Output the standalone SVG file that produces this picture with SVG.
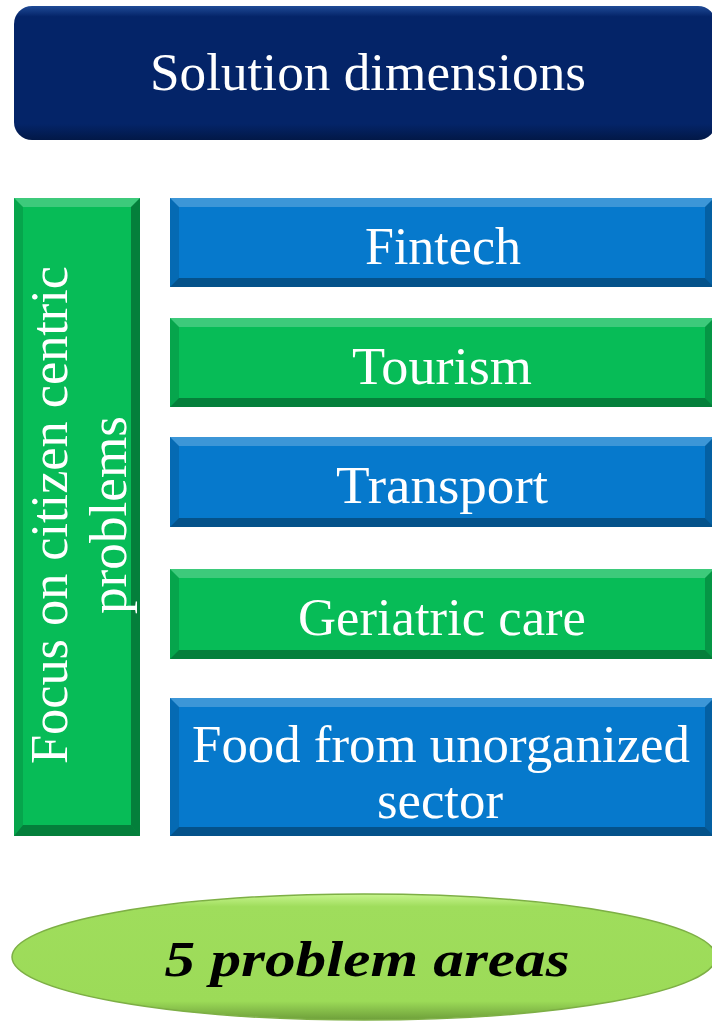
<svg xmlns="http://www.w3.org/2000/svg" width="712" height="1022" viewBox="0 0 712 1022">
<defs>
<style>
.t{font-family:"Liberation Serif","Times New Roman",serif;font-size:52px;fill:#ffffff;text-anchor:middle}
.hi{fill:#ffffff;fill-opacity:0.22}
.lo{fill:#000000;fill-opacity:0.32}
.sd{fill:#000000;fill-opacity:0.12}
.sr{fill:#000000;fill-opacity:0.2}
.blue{fill:#0679CC}
.green{fill:#07BC57}
</style>
<linearGradient id="navyG" x1="0" y1="0" x2="0" y2="1">
<stop offset="0" stop-color="#1F4A96"/>
<stop offset="0.08" stop-color="#042468"/>
<stop offset="0.88" stop-color="#042468"/>
<stop offset="1" stop-color="#021847"/>
</linearGradient>
<linearGradient id="limeG" x1="0" y1="0" x2="0" y2="1">
<stop offset="0" stop-color="#C8F58F"/>
<stop offset="0.1" stop-color="#9FDD5C"/>
<stop offset="0.85" stop-color="#9CDB58"/>
<stop offset="1" stop-color="#6E9F3A"/>
</linearGradient>
</defs>

<g id="connectors"></g>

<g id="header">
<rect x="14" y="6" width="702" height="134" rx="18" fill="url(#navyG)"/>
<text class="t" x="368" y="90" font-size="53" textLength="436" lengthAdjust="spacingAndGlyphs">Solution dimensions</text>
</g>

<g id="focus">
<rect class="green" x="14" y="198" width="126" height="638"/>
<polygon class="hi" points="14,198 140,198 131,207 23,207"/>
<polygon class="lo" points="14,836 140,836 131,825 23,825"/>
<polygon class="sd" points="14,198 23,207 23,825 14,836"/>
<polygon class="lo" points="140,198 131,207 131,825 140,836"/>
<g transform="rotate(-90)">
<text class="t" x="-515" y="67" textLength="498" lengthAdjust="spacingAndGlyphs">Focus on citizen centric</text>
<text class="t" x="-515" y="126" textLength="198" lengthAdjust="spacingAndGlyphs">problems</text>
</g>
</g>

<g id="fintech">
<rect class="blue" x="170" y="198" width="544" height="89"/>
<polygon class="hi" points="170,198 714,198 705,207 179,207"/>
<polygon class="lo" points="170,287 714,287 705,278 179,278"/>
<polygon class="sd" points="170,198 179,207 179,278 170,287"/>
<polygon class="sr" points="714,198 705,207 705,278 714,287"/>
<text class="t" x="443" y="264" textLength="156" lengthAdjust="spacingAndGlyphs">Fintech</text>
</g>

<g id="tourism">
<rect class="green" x="170" y="318" width="544" height="89"/>
<polygon class="hi" points="170,318 714,318 705,327 179,327"/>
<polygon class="lo" points="170,407 714,407 705,398 179,398"/>
<polygon class="sd" points="170,318 179,327 179,398 170,407"/>
<polygon class="sr" points="714,318 705,327 705,398 714,407"/>
<text class="t" x="442" y="384" textLength="180" lengthAdjust="spacingAndGlyphs">Tourism</text>
</g>

<g id="transport">
<rect class="blue" x="170" y="437" width="544" height="90"/>
<polygon class="hi" points="170,437 714,437 705,446 179,446"/>
<polygon class="lo" points="170,527 714,527 705,518 179,518"/>
<polygon class="sd" points="170,437 179,446 179,518 170,527"/>
<polygon class="sr" points="714,437 705,446 705,518 714,527"/>
<text class="t" x="442" y="503" textLength="212" lengthAdjust="spacingAndGlyphs">Transport</text>
</g>

<g id="geriatric">
<rect class="green" x="170" y="569" width="544" height="90"/>
<polygon class="hi" points="170,569 714,569 705,578 179,578"/>
<polygon class="lo" points="170,659 714,659 705,650 179,650"/>
<polygon class="sd" points="170,569 179,578 179,650 170,659"/>
<polygon class="sr" points="714,569 705,578 705,650 714,659"/>
<text class="t" x="442" y="635" textLength="288" lengthAdjust="spacingAndGlyphs">Geriatric care</text>
</g>

<g id="food">
<rect class="blue" x="170" y="698" width="544" height="138"/>
<polygon class="hi" points="170,698 714,698 705,707 179,707"/>
<polygon class="lo" points="170,836 714,836 705,827 179,827"/>
<polygon class="sd" points="170,698 179,707 179,827 170,836"/>
<polygon class="sr" points="714,698 705,707 705,827 714,836"/>
<text class="t" x="441" y="762" textLength="498" lengthAdjust="spacingAndGlyphs">Food from unorganized</text>
<text class="t" x="440" y="818" textLength="126" lengthAdjust="spacingAndGlyphs">sector</text>
</g>

<g id="summary">
<ellipse cx="364" cy="957" rx="352" ry="63" fill="url(#limeG)" stroke="#7DAF45" stroke-width="1.5"/>
<text x="367" y="976" font-family="'Liberation Serif','Times New Roman',serif" font-size="50" font-weight="bold" font-style="italic" fill="#000000" text-anchor="middle" textLength="405" lengthAdjust="spacingAndGlyphs">5 problem areas</text>
</g>
</svg>
